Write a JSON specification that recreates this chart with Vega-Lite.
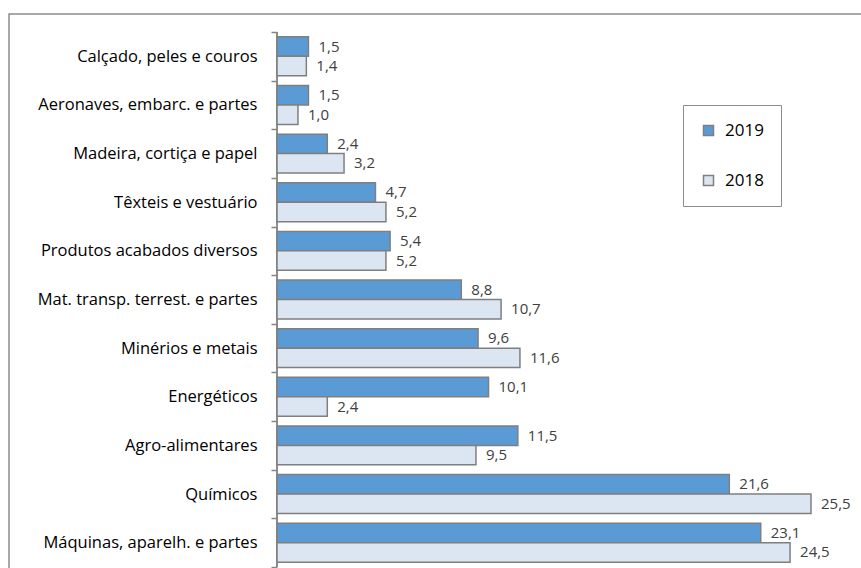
{
  "$schema": "https://vega.github.io/schema/vega-lite/v6.json",
  "autosize": {"type": "none"},
  "padding": {"left": 9, "top": 14, "right": 0, "bottom": 0},
  "width": 860,
  "height": 571,
  "background": "white",
  "config": {
    "view": {"stroke": "#8c8c8c", "strokeWidth": 1.5},
    "locale": {"number": {"decimal": ",", "thousands": ".", "grouping": [3], "currency": ["", " €"]}},
    "font": "Open Sans"
  },
  "data": {
    "values": [
      {"categoria": "Calçado, peles e couros", "ano": "2019", "valor": 1.5},
      {"categoria": "Calçado, peles e couros", "ano": "2018", "valor": 1.4},
      {"categoria": "Aeronaves, embarc. e partes", "ano": "2019", "valor": 1.5},
      {"categoria": "Aeronaves, embarc. e partes", "ano": "2018", "valor": 1.0},
      {"categoria": "Madeira, cortiça e papel", "ano": "2019", "valor": 2.4},
      {"categoria": "Madeira, cortiça e papel", "ano": "2018", "valor": 3.2},
      {"categoria": "Têxteis e vestuário", "ano": "2019", "valor": 4.7},
      {"categoria": "Têxteis e vestuário", "ano": "2018", "valor": 5.2},
      {"categoria": "Produtos acabados diversos", "ano": "2019", "valor": 5.4},
      {"categoria": "Produtos acabados diversos", "ano": "2018", "valor": 5.2},
      {"categoria": "Mat. transp. terrest. e partes", "ano": "2019", "valor": 8.8},
      {"categoria": "Mat. transp. terrest. e partes", "ano": "2018", "valor": 10.7},
      {"categoria": "Minérios e metais", "ano": "2019", "valor": 9.6},
      {"categoria": "Minérios e metais", "ano": "2018", "valor": 11.6},
      {"categoria": "Energéticos", "ano": "2019", "valor": 10.1},
      {"categoria": "Energéticos", "ano": "2018", "valor": 2.4},
      {"categoria": "Agro-alimentares", "ano": "2019", "valor": 11.5},
      {"categoria": "Agro-alimentares", "ano": "2018", "valor": 9.5},
      {"categoria": "Químicos", "ano": "2019", "valor": 21.6},
      {"categoria": "Químicos", "ano": "2018", "valor": 25.5},
      {"categoria": "Máquinas, aparelh. e partes", "ano": "2019", "valor": 23.1},
      {"categoria": "Máquinas, aparelh. e partes", "ano": "2018", "valor": 24.5}
    ]
  },
  "encoding": {
    "y": {
      "field": "categoria",
      "type": "nominal",
      "sort": null,
      "scale": {"paddingInner": 0, "paddingOuter": 0.37},
      "axis": {
        "title": null,
        "offset": -268,
        "tickBand": "extent",
        "domain": false,
        "tickColor": "#868686",
        "tickWidth": 1.5,
        "tickSize": 6,
        "labelPadding": 14,
        "labelFontSize": 16.5,
        "labelColor": "#000000",
        "labelFont": "Open Sans",
        "labelLimit": 400
      }
    },
    "x": {
      "field": "valor",
      "type": "quantitative",
      "scale": {"domain": [-12.8, 28.27], "nice": false, "zero": false},
      "axis": null
    }
  },
  "layer": [
    {
      "mark": {"type": "rule", "color": "#868686", "strokeWidth": 1.5},
      "encoding": {
        "x": {"datum": 0},
        "y": {"field": "categoria", "type": "nominal", "sort": null, "bandPosition": 0},
        "y2": {"field": "categoria", "bandPosition": 1}
      }
    },
    {
      "mark": {"type": "bar", "stroke": "#7f7f7f", "strokeWidth": 1.5},
      "encoding": {
        "x2": {"datum": 0},
        "yOffset": {
          "field": "ano",
          "type": "nominal",
          "sort": ["2019", "2018"],
          "scale": {"paddingInner": 0, "paddingOuter": 0.25}
        },
        "color": {
          "field": "ano",
          "type": "nominal",
          "sort": ["2019", "2018"],
          "scale": {"domain": ["2019", "2018"], "range": ["#5b9bd5", "#dce6f2"]},
          "legend": {
            "title": null,
            "orient": "none",
            "legendX": 674,
            "legendY": 91,
            "strokeColor": "#8c8c8c",
            "padding": 17,
            "rowPadding": 32,
            "symbolType": "square",
            "symbolSize": 100,
            "symbolStrokeColor": "#7f7f7f",
            "symbolStrokeWidth": 1.5,
            "labelFontSize": 17,
            "labelColor": "#000000",
            "labelOffset": 8,
            "labelFont": "Open Sans"
          }
        }
      }
    },
    {
      "mark": {"type": "text", "align": "left", "baseline": "middle", "dx": 10, "fontSize": 15, "color": "#404040", "font": "Open Sans"},
      "encoding": {
        "yOffset": {
          "field": "ano",
          "type": "nominal",
          "sort": ["2019", "2018"],
          "scale": {"paddingInner": 0, "paddingOuter": 0.25}
        },
        "text": {"field": "valor", "type": "quantitative", "format": ".1f"}
      }
    }
  ]
}
